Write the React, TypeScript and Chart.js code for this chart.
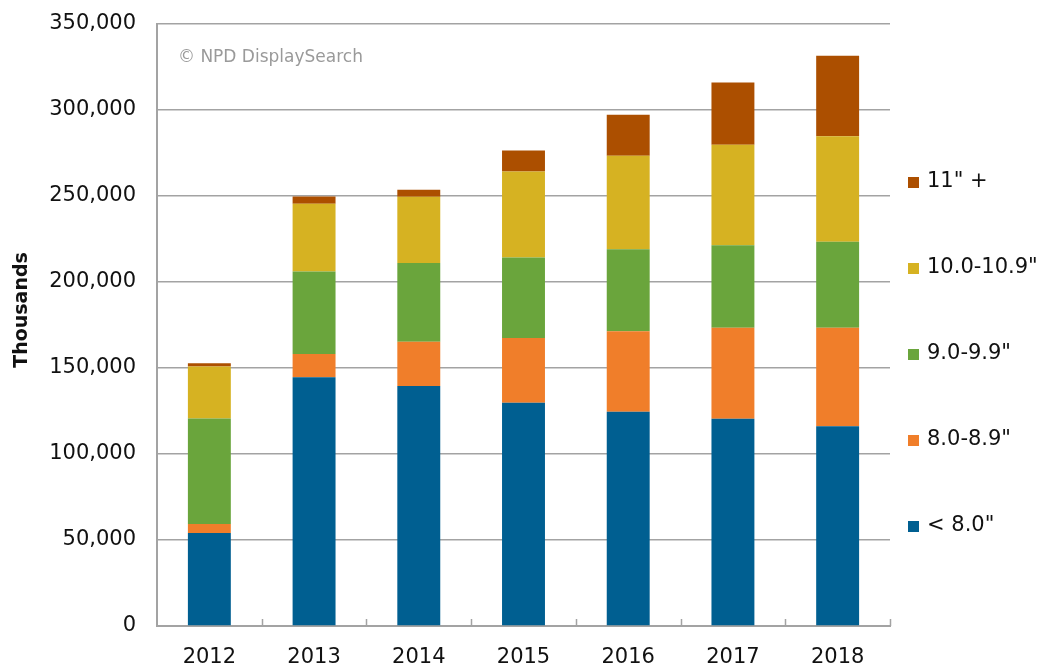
import React, { useEffect, useRef } from "react";
import { Chart, registerables } from "chart.js";

Chart.register(...registerables);

const categories = ["2012", "2013", "2014", "2015", "2016", "2017", "2018"];

const seriesNames = ['< 8.0"', '8.0-8.9"', '9.0-9.9"', '10.0-10.9"', '11" +'];

const under8 = [54100, 144600, 139500, 129800, 124600, 120500, 116200];
const s8to89 = [5200, 13600, 25800, 37700, 46800, 52900, 57200];
const s9to99 = [61300, 47900, 45800, 46800, 47700, 48000, 50000];
const s10to109 = [30200, 39400, 38400, 49900, 54300, 58400, 61400];
const s11plus = [2000, 4200, 4200, 12200, 23900, 36200, 46800];

const seriesColors = ["#005f91", "#f07e2a", "#6aa53c", "#d6b222", "#ac4f00"];

const yTicks = [0, 50000, 100000, 150000, 200000, 250000, 300000, 350000];

const FONT = "'DejaVu Sans', Verdana, sans-serif";
const GRID = "#a3a3a3";

const extrasPlugin = {
  id: "extras",
  afterDraw(chart: any) {
    const ctx = chart.ctx;
    const area = chart.chartArea;
    const xs = chart.scales.x;
    ctx.save();
    // inner x tick marks at category boundaries
    ctx.strokeStyle = GRID;
    ctx.lineWidth = 1.5;
    const n = categories.length;
    for (let i = 1; i <= n; i++) {
      const prev = xs.getPixelForValue(i - 1);
      const cur = i < n ? xs.getPixelForValue(i) : prev + (prev - xs.getPixelForValue(i - 2));
      const bx = Math.round((prev + cur) / 2) + 0.5;
      ctx.beginPath();
      ctx.moveTo(bx, area.bottom);
      ctx.lineTo(bx, area.bottom - 7);
      ctx.stroke();
    }
    // watermark
    ctx.fillStyle = "#9a9a9a";
    ctx.font = `17px ${FONT}`;
    ctx.textAlign = "left";
    ctx.textBaseline = "middle";
    ctx.fillText("\u00A9 NPD DisplaySearch", 178, 58);
    // y-axis title
    ctx.save();
    ctx.translate(22, 310);
    ctx.rotate(-Math.PI / 2);
    ctx.fillStyle = "#111";
    ctx.font = `bold 19px ${FONT}`;
    ctx.textAlign = "center";
    ctx.textBaseline = "middle";
    ctx.fillText("Thousands", 0, 0);
    ctx.restore();
    // legend (reversed order)
    const ds = chart.data.datasets;
    ctx.font = `21px ${FONT}`;
    ctx.textBaseline = "middle";
    ctx.textAlign = "left";
    for (let k = 0; k < ds.length; k++) {
      const d = ds[ds.length - 1 - k];
      const cy = 182 + k * 86;
      ctx.fillStyle = d.backgroundColor;
      ctx.fillRect(area.right + 18, cy - 5, 11, 11);
      ctx.fillStyle = "#111";
      ctx.fillText(d.label, area.right + 37, cy);
    }
    ctx.restore();
  },
};

export default function App() {
  const ref = useRef<HTMLCanvasElement | null>(null);
  useEffect(() => {
    if (!ref.current) return;
    const data = [under8, s8to89, s9to99, s10to109, s11plus];
    const chart = new Chart(ref.current, {
      type: "bar",
      data: {
        labels: categories,
        datasets: data.map((vals, i) => ({
          label: seriesNames[i],
          data: vals,
          backgroundColor: seriesColors[i],
          borderWidth: 0,
          categoryPercentage: 1,
          barPercentage: 0.41,
        })),
      },
      options: {
        responsive: false,
        animation: false,
        layout: { padding: { top: 24, right: 152, bottom: 0, left: 0 } },
        plugins: {
          legend: { display: false },
          tooltip: { enabled: false },
        },
        scales: {
          x: {
            stacked: true,
            grid: { display: false, drawTicks: false },
            border: { display: true, color: GRID, width: 2 },
            ticks: {
              color: "#111",
              font: { family: FONT, size: 21 },
              padding: 19,
            },
            afterFit: (s: any) => {
              s.height = 40;
              s.paddingLeft = 0;
              s.paddingRight = 0;
            },
          },
          y: {
            stacked: true,
            min: 0,
            max: 350000,
            afterBuildTicks: (s: any) => {
              s.ticks = yTicks.map((v) => ({ value: v }));
            },
            grid: { color: GRID, lineWidth: 1.5, drawTicks: false },
            border: { display: true, color: GRID, width: 2 },
            ticks: {
              color: "#111",
              font: { family: FONT, size: 21 },
              padding: 21,
              callback: (v: any) => Number(v).toLocaleString("en-US"),
            },
            afterFit: (s: any) => {
              s.width = 157;
              s.paddingTop = 0;
              s.paddingBottom = 0;
            },
          },
        },
      },
      plugins: [extrasPlugin],
    });
    return () => chart.destroy();
  }, []);
  return (
    <div style={{ position: "absolute", left: 0, top: 0, width: 1042, height: 666, background: "#fff" }}>
      <canvas ref={ref} width={1042} height={666} />
    </div>
  );
}
